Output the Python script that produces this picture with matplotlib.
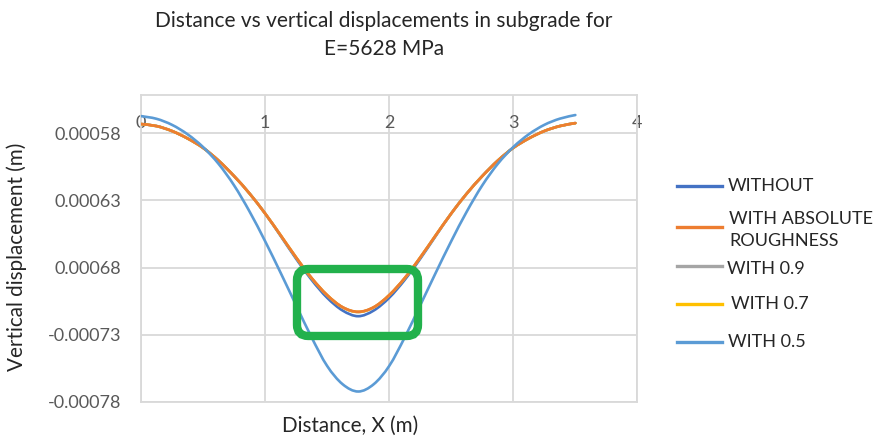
import matplotlib
matplotlib.use('Agg')
import matplotlib.pyplot as plt
from matplotlib.patches import FancyBboxPatch, PathPatch
from matplotlib.path import Path
from matplotlib.lines import Line2D

plt.rcParams['font.family'] = ['Lato', 'DejaVu Sans']

# distance along the section (m)
distance = [0, 0.125, 0.25, 0.375, 0.5, 0.625, 0.75, 0.875, 1.0, 1.125, 1.25, 1.375, 1.5, 1.625, 1.75,
            1.875, 2.0, 2.125, 2.25, 2.375, 2.5, 2.625, 2.75, 2.875, 3.0, 3.125, 3.25, 3.375, 3.5]

# vertical displacement in subgrade (m)
without = [-0.0005733, -0.0005748, -0.0005785, -0.0005840, -0.0005910, -0.0006005, -0.0006120, -0.0006250,
           -0.0006398, -0.0006565, -0.0006735, -0.0006892, -0.0007025, -0.0007120, -0.0007162,
           -0.0007120, -0.0007025, -0.0006892, -0.0006735, -0.0006565, -0.0006398, -0.0006250, -0.0006120,
           -0.0006005, -0.0005910, -0.0005840, -0.0005785, -0.0005748, -0.0005726]
with_abs = [-0.0005733, -0.0005748, -0.0005785, -0.0005840, -0.0005910, -0.0006005, -0.0006120, -0.0006250,
            -0.0006398, -0.0006560, -0.0006725, -0.0006878, -0.0007005, -0.0007095, -0.0007129,
            -0.0007095, -0.0007005, -0.0006878, -0.0006725, -0.0006560, -0.0006398, -0.0006250, -0.0006120,
            -0.0006005, -0.0005910, -0.0005840, -0.0005785, -0.0005748, -0.0005726]
with_09 = [-0.0005733, -0.0005748, -0.0005785, -0.0005840, -0.0005910, -0.0006005, -0.0006120, -0.0006250,
           -0.0006398, -0.0006560, -0.0006726, -0.0006879, -0.0007006, -0.0007096, -0.0007131,
           -0.0007096, -0.0007006, -0.0006879, -0.0006726, -0.0006560, -0.0006398, -0.0006250, -0.0006120,
           -0.0006005, -0.0005910, -0.0005840, -0.0005785, -0.0005748, -0.0005726]
with_07 = [-0.0005733, -0.0005748, -0.0005785, -0.0005840, -0.0005910, -0.0006005, -0.0006120, -0.0006250,
           -0.0006398, -0.0006560, -0.0006725, -0.0006879, -0.0007005, -0.0007096, -0.0007130,
           -0.0007096, -0.0007005, -0.0006879, -0.0006725, -0.0006560, -0.0006398, -0.0006250, -0.0006120,
           -0.0006005, -0.0005910, -0.0005840, -0.0005785, -0.0005748, -0.0005726]
with_05 = [-0.0005674, -0.0005694, -0.0005739, -0.0005809, -0.0005904, -0.0006029, -0.0006189, -0.0006384,
           -0.0006604, -0.0006839, -0.0007081, -0.0007320, -0.0007532, -0.0007668, -0.0007722,
           -0.0007668, -0.0007532, -0.0007320, -0.0007081, -0.0006839, -0.0006604, -0.0006384, -0.0006189,
           -0.0006029, -0.0005904, -0.0005809, -0.0005739, -0.0005693, -0.0005666]

series = [
    ('WITHOUT', without, '#4472C4', 2),
    ('WITH 0.9', with_09, '#A5A5A5', 3),
    ('WITH 0.7', with_07, '#FFC000', 4),
    ('WITH ABSOLUTE\nROUGHNESS', with_abs, '#ED7D31', 5),
    ('WITH 0.5', with_05, '#5B9BD5', 6),
]

x_ticks = [0, 1, 2, 3, 4]
y_ticks = [-0.00058, -0.00063, -0.00068, -0.00073, -0.00078]
y_tick_labels = ['0.00058', '0.00063', '0.00068', '-0.00073', '-0.00078']

# highlighted region around the minimum of the curves
box_x = (1.257, 2.232)
box_y = (-0.0007309, -0.0006811)


def smooth_path(xs, ys):
    # Catmull-Rom through the points, written as cubic bezier segments
    pts = list(zip(xs, ys))
    verts = [pts[0]]
    codes = [Path.MOVETO]
    n = len(pts)
    for i in range(n - 1):
        p0 = pts[max(i - 1, 0)]
        p1 = pts[i]
        p2 = pts[i + 1]
        p3 = pts[min(i + 2, n - 1)]
        c1 = (p1[0] + (p2[0] - p0[0]) / 6, p1[1] + (p2[1] - p0[1]) / 6)
        c2 = (p2[0] - (p3[0] - p1[0]) / 6, p2[1] - (p3[1] - p1[1]) / 6)
        verts += [c1, c2, p2]
        codes += [Path.CURVE4] * 3
    return Path(verts, codes)


W, H = 879, 438
fig = plt.figure(figsize=(W / 100, H / 100), dpi=100)
ax = fig.add_axes([141 / W, 1 - 402 / H, (637.4 - 141) / W, (402 - 95) / H])

colors = {}
for label, vals, color, z in series:
    ax.add_patch(PathPatch(smooth_path(distance, vals), fc='none', ec=color, lw=1.9,
                           zorder=z, capstyle='round'))
    colors[label] = color

ax.set_xlim(0, 4)
ax.set_ylim(-0.00078, -0.0005517)
ax.set_xticks(x_ticks)
ax.set_xticklabels([str(t) for t in x_ticks])
ax.set_yticks(y_ticks)
ax.set_yticklabels(y_tick_labels)
ax.xaxis.tick_top()
ax.tick_params(axis='x', length=0, pad=-26, labelsize=13, colors='#595959')
ax.tick_params(axis='y', length=0, pad=14, labelsize=13, colors='#595959')
ax.grid(True, color='#D9D9D9', lw=1.3, zorder=0)
for s in ax.spines.values():
    s.set_color('#D9D9D9')
    s.set_linewidth(1.3)

# green rounded box, corners kept round in pixel space
aspect = 124.1 * 7.435e-7
hl = FancyBboxPatch((box_x[0], box_y[0]), box_x[1] - box_x[0], box_y[1] - box_y[0],
                    boxstyle='round,pad=0,rounding_size=0.09', mutation_aspect=aspect,
                    fc='none', ec='#22B14C', lw=6, zorder=10, transform=ax.transData,
                    clip_on=False)
ax.add_patch(hl)

fig.text(384 / W, 1 - 35 / H, 'Distance vs vertical displacements in subgrade for\nE=5628 MPa',
         ha='center', va='center', fontsize=15, color='#262626', linespacing=1.45)
fig.text(350 / W, 1 - 426 / H, 'Distance, X (m)', ha='center', va='center',
         fontsize=14.9, color='#262626')
fig.text(17 / W, 1 - 257 / H, 'Vertical displacement (m)', ha='center', va='center',
         rotation=90, fontsize=14.9, color='#262626')

# legend laid out by hand: (label, sample line y, text x, text y) in pixels
legend_rows = [
    ('WITHOUT', 186, 728, 186),
    ('WITH ABSOLUTE\nROUGHNESS', 227, 729, 230),
    ('WITH 0.9', 266, 727, 269),
    ('WITH 0.7', 304, 731, 304),
    ('WITH 0.5', 342, 728, 342),
]
for label, ly, tx, ty in legend_rows:
    fig.add_artist(Line2D([677 / W, 722 / W], [1 - ly / H, 1 - ly / H], color=colors[label],
                          lw=2.4, transform=fig.transFigure))
    fig.text(tx / W, 1 - ty / H, label, ha='left', va='center', fontsize=13,
             color='#262626', linespacing=1.4)

fig.savefig('out.png', dpi=100)
